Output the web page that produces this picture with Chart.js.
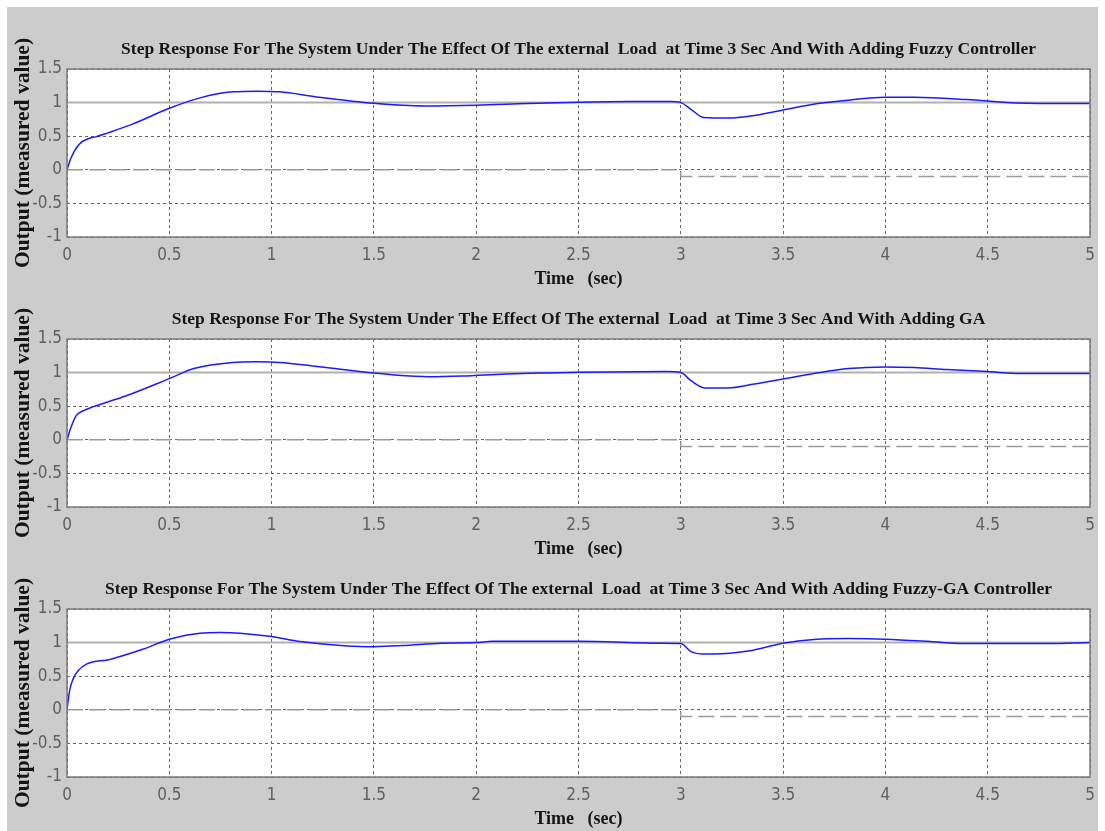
<!DOCTYPE html>
<html>
<head>
<meta charset="utf-8">
<script src="https://cdn.jsdelivr.net/npm/chart.js@4.4.1/dist/chart.umd.min.js"></script>
<style>
  body { margin: 0; background: #ffffff; width: 1105px; height: 831px; overflow: hidden; position: relative; }
  #fondo { position: absolute; left: 7px; top: 7px; width: 1091px; height: 824px; background: #cccccc; }
  canvas { position: absolute; left: 0; }
</style>
</head>
<body>
<div id="fondo"></div>
<canvas id="g1" width="1105" height="290" style="top:0px"></canvas>
<canvas id="g2" width="1105" height="290" style="top:270px"></canvas>
<canvas id="g3" width="1105" height="290" style="top:540px"></canvas>
<script>
const titulos = [
    "Step Response For The System Under The Effect Of The external  Load  at Time 3 Sec And With Adding Fuzzy Controller",
    "Step Response For The System Under The Effect Of The external  Load  at Time 3 Sec And With Adding GA",
    "Step Response For The System Under The Effect Of The external  Load  at Time 3 Sec And With Adding Fuzzy-GA Controller"
];

// respuesta con controlador fuzzy
const tiempoFuzzy = [0, 0.02, 0.06, 0.11, 0.14, 0.2, 0.32, 0.5, 0.65, 0.81, 0.93, 1.04, 1.22, 1.5, 1.75, 2.0, 2.25, 2.5, 2.75, 2.95, 3.0, 3.05, 3.11, 3.24, 3.34, 3.5, 3.67, 3.83, 4.0, 4.14, 4.4, 4.64, 5.0];
const salidaFuzzy = [0, 0.18, 0.38, 0.47, 0.49, 0.55, 0.68, 0.915, 1.07, 1.16, 1.17, 1.16, 1.085, 0.99, 0.95, 0.96, 0.985, 1.005, 1.015, 1.015, 1.0, 0.90, 0.78, 0.77, 0.80, 0.89, 0.985, 1.04, 1.08, 1.08, 1.045, 0.995, 0.985];

// respuesta con GA
const tiempoGA = [0, 0.02, 0.045, 0.078, 0.127, 0.29, 0.5, 0.62, 0.81, 0.93, 1.04, 1.2, 1.43, 1.6, 1.77, 1.93, 2.15, 2.34, 2.5, 2.93, 3.0, 3.05, 3.12, 3.23, 3.36, 3.5, 3.65, 3.82, 4.0, 4.14, 4.3, 4.5, 4.66, 5.0];
const salidaGA = [0, 0.19, 0.36, 0.43, 0.49, 0.655, 0.91, 1.06, 1.15, 1.16, 1.15, 1.10, 1.015, 0.965, 0.94, 0.95, 0.98, 0.995, 1.005, 1.015, 1.0, 0.88, 0.77, 0.77, 0.83, 0.905, 0.985, 1.06, 1.085, 1.075, 1.045, 1.015, 0.985, 0.985];

// respuesta con fuzzy-GA
const tiempoFGA = [0, 0.013, 0.03, 0.054, 0.095, 0.21, 0.37, 0.5, 0.65, 0.75, 0.845, 1.0, 1.14, 1.37, 1.5, 1.64, 1.83, 2.0, 2.08, 2.5, 2.9, 3.0, 3.05, 3.11, 3.16, 3.33, 3.5, 3.65, 3.82, 4.0, 4.22, 4.38, 4.79, 5.0];
const salidaFGA = [0, 0.29, 0.46, 0.58, 0.68, 0.75, 0.90, 1.05, 1.14, 1.15, 1.14, 1.09, 1.015, 0.95, 0.94, 0.955, 0.99, 1.0, 1.02, 1.02, 0.99, 0.985, 0.865, 0.83, 0.83, 0.875, 0.99, 1.045, 1.06, 1.05, 1.015, 0.985, 0.985, 1.0];

// referencia y carga externa
const tiempoRef = [0, 5];
const valorRef = [1, 1];
const tiempoCarga = [0, 3, 3, 5];
const valorCarga = [0, 0, -0.1, -0.1];

const ejeX = { min: 0, max: 5, paso: 0.5 };
const ejeY = { min: -1, max: 1.5, paso: 0.5 };

function puntos(xs, ys) {
    return xs.map((x, i) => ({ x: x, y: ys[i] }));
}

// fondo blanco y marco del area de trazado
const marco = {
    id: "marco",
    beforeDraw(chart) {
        const a = chart.chartArea;
        chart.ctx.save();
        chart.ctx.fillStyle = "#ffffff";
        chart.ctx.fillRect(a.left, a.top, a.right - a.left, a.bottom - a.top);
        chart.ctx.restore();
    },
    afterDraw(chart) {
        const a = chart.chartArea;
        const ctx = chart.ctx;
        ctx.save();
        ctx.strokeStyle = "#7a7a7a";
        ctx.lineWidth = 1.5;
        ctx.strokeRect(a.left, a.top, a.right - a.left, a.bottom - a.top);
        ctx.restore();
    }
};

const fuenteSerif = "'Liberation Serif', 'Times New Roman', serif";
const fuenteTicks = "'Liberation Sans Narrow', 'DejaVu Sans Condensed', 'Liberation Sans', sans-serif";
const etiqueta = (v) => String(Math.round(v * 10) / 10);

function crearGrafico(id, titulo, tiempos, salidas) {
    return new Chart(document.getElementById(id), {
        type: "line",
        data: {
            datasets: [
                {
                    data: puntos(tiempos, salidas),
                    borderColor: "#1a1aff",
                    borderWidth: 1.5,
                    pointRadius: 0,
                    cubicInterpolationMode: "monotone"
                },
                {
                    data: puntos(tiempoRef, valorRef),
                    borderColor: "#b0b0b0",
                    borderWidth: 2,
                    pointRadius: 0
                },
                {
                    data: puntos(tiempoCarga, valorCarga),
                    borderColor: "#9a9a9a",
                    borderWidth: 1.5,
                    borderDash: [16, 6],
                    pointRadius: 0
                }
            ]
        },
        options: {
            responsive: false,
            animation: false,
            devicePixelRatio: 1,
            layout: { padding: { left: 0, right: 15, top: 0, bottom: 0 } },
            plugins: {
                legend: { display: false },
                tooltip: { enabled: false },
                title: {
                    display: true,
                    text: titulo,
                    fullSize: false,
                    color: "#151515",
                    font: { family: fuenteSerif, size: 17.5, weight: "bold", lineHeight: 1.2 },
                    padding: { top: 38.5, bottom: 9.5 }
                }
            },
            scales: {
                x: {
                    type: "linear",
                    min: ejeX.min,
                    max: ejeX.max,
                    afterFit(scale) { scale.height = 53; },
                    ticks: {
                        stepSize: ejeX.paso,
                        color: "#606060",
                        padding: 8,
                        font: { family: fuenteTicks, size: 17 },
                        callback: etiqueta
                    },
                    grid: { color: "#666666", drawTicks: false },
                    border: { display: false, dash: [3, 3] },
                    title: {
                        display: true,
                        text: "Time   (sec)",
                        color: "#151515",
                        font: { family: fuenteSerif, size: 18, weight: "bold", lineHeight: 1.2 },
                        padding: { top: 0, bottom: 0 }
                    }
                },
                y: {
                    min: ejeY.min,
                    max: ejeY.max,
                    afterFit(scale) { scale.width = 67; },
                    ticks: {
                        stepSize: ejeY.paso,
                        color: "#606060",
                        padding: 5,
                        font: { family: fuenteTicks, size: 17 },
                        callback: etiqueta
                    },
                    grid: { color: "#666666", drawTicks: false },
                    border: { display: false, dash: [3, 3] },
                    title: {
                        display: true,
                        text: "Output (measured value)",
                        color: "#151515",
                        font: { family: fuenteSerif, size: 21.5, weight: "bold", lineHeight: 1.2 },
                        padding: { top: 11, bottom: 0 }
                    }
                }
            }
        },
        plugins: [marco]
    });
}

crearGrafico("g1", titulos[0], tiempoFuzzy, salidaFuzzy);
crearGrafico("g2", titulos[1], tiempoGA, salidaGA);
crearGrafico("g3", titulos[2], tiempoFGA, salidaFGA);
</script>
</body>
</html>
